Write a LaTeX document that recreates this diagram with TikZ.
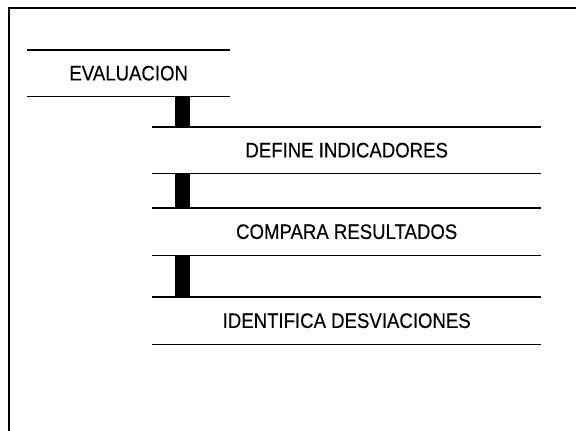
\documentclass[tikz,border=0pt]{standalone}
\usepackage{fontspec}
\usepackage{graphicx}
\setmainfont{Liberation Sans}[FakeBold=0.3]
\newcommand{\talltext}[1]{\scalebox{1}[1.13]{#1}}
\begin{document}
\begin{tikzpicture}[x=1pt,y=-1pt,
  stepbox/.style={minimum height=46pt, inner sep=0pt, font=\fontsize{18.6}{20}\selectfont, anchor=north west},
  rule/.style={line width=1.6pt},
  frame/.style={line width=2pt},
  bar/.style={line width=15pt}]
\useasboundingbox (0,0) rectangle (576,431);
% outer frame
\coordinate (ftl) at (9,8);
\coordinate (ftr) at (576,8);
\coordinate (fbl) at (9,431);
\draw[frame] (ftr) -- (ftl) -- (fbl);
% boxes
\node[stepbox, minimum width=203pt] (ev) at (27,50) {\talltext{EVALUACION}};
\node[stepbox, minimum width=389pt] (def) at (152,127) {\talltext{DEFINE INDICADORES}};
\node[stepbox, minimum width=389pt, minimum height=47pt] (cmp) at (152,208) {\talltext{COMPARA RESULTADOS}};
\node[stepbox, minimum width=389pt, minimum height=47pt] (idf) at (152,297) {\talltext{IDENTIFICA DESVIACIONES}};
\foreach \n in {ev,def,cmp,idf}{
  \draw[rule] (\n.north west) -- (\n.north east);
  \draw[rule] (\n.south west) -- (\n.south east);
}
% connectors
\coordinate (bx) at (182.5,0);
\draw[bar] (ev.south -| bx) -- (def.north -| bx);
\draw[bar] (def.south -| bx) -- (cmp.north -| bx);
\draw[bar] (cmp.south -| bx) -- (idf.north -| bx);
\end{tikzpicture}
\end{document}
